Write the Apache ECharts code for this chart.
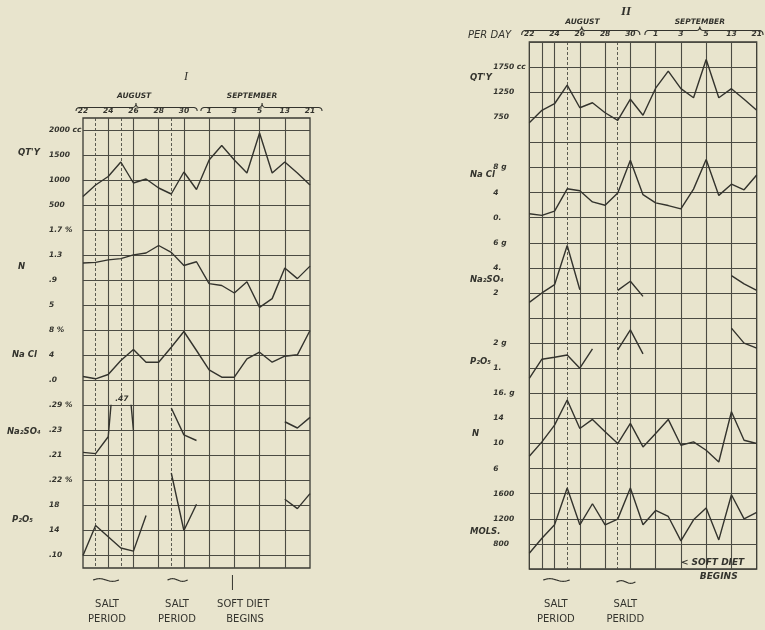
<!DOCTYPE html>
<html><head><meta charset="utf-8">
<script src="https://cdn.jsdelivr.net/npm/echarts@6/dist/echarts.min.js"></script>
<style>html,body{margin:0;padding:0;background:#e8e4cd;}#c{width:765px;height:630px;}</style>
</head><body><div id="c"></div>
<script>
// ---- categories (days) ----
const days = ['22','23','24','25','26','27','28','29','30','31','1','2','3','4','5','9','13','17','21'];
const solidDays1 = [2,4,6,8,10,12,14,16];
const dashedDays1 = [1,3,7];
const solidDays2 = [1,2,4,6,8,10,12,14,16];
const dashedDays2 = [3,7];

// ---- Chart I values ----
const qty1 = [680,910,1080,1370,950,1030,850,730,1170,820,1410,1700,1410,1150,1950,1150,1370,1150,910];
const n1 = [1.18,1.19,1.23,1.25,1.31,1.34,1.46,1.35,1.14,1.20,0.85,0.82,0.70,0.88,0.47,0.61,1.10,0.93,1.13];
const nacl1 = [0.64,0.27,0.96,3.2,4.96,2.93,2.93,5.33,7.84,4.8,1.71,0.53,0.53,3.47,4.53,2.93,3.89,4.11,8.0];
const na2so4_1 = [0.215,0.213,0.240,0.47,0.25,null,null,0.286,0.243,0.234,null,null,null,null,null,null,0.264,0.254,0.271];
const p2o5_1 = [0.10,0.148,0.130,0.112,0.107,0.164,null,0.232,0.14,0.182,null,null,null,null,null,null,0.19,0.175,0.199];

// ---- Chart II values ----
const qty2 = [640,890,1020,1390,940,1040,840,690,1110,790,1330,1670,1320,1140,1900,1140,1320,1110,890];
const nacl2 = [0.63,0.36,1.04,4.6,4.29,2.51,1.98,3.92,9.15,3.66,2.36,1.93,1.41,4.55,9.26,3.55,5.34,4.44,6.8];
const na2so4_2 = [1.25,2.0,2.66,5.78,2.26,null,null,2.21,2.93,1.73,null,null,null,null,null,null,3.38,2.72,2.21];
const p2o5_2 = [0.6,1.36,1.44,1.53,1.0,1.77,null,1.73,2.53,1.57,null,null,null,null,null,null,2.6,2.0,1.8];
const n2 = [7.97,10.26,12.93,16.93,12.4,13.84,11.86,10.0,13.2,9.46,11.6,13.84,9.73,10.26,8.93,7.06,15.06,10.53,10.0];
const mols2 = [651,891,1104,1691,1104,1440,1104,1195,1691,1104,1333,1237,848,1184,1371,864,1584,1200,1301];

// ---- tick values and labels ----
const qty1Ticks = [500,1000,1500,2000], qty1Labels = ['500','1000','1500','2000 cc'];
const n1Ticks = [0.5,0.9,1.3,1.7], n1Labels = ['5','.9','1.3','1.7 %'];
const nacl1Ticks = [0,4,8], nacl1Labels = ['.0','4','8 %'];
const na2so41Ticks = [0.21,0.25,0.29], na2so41Labels = ['.21','.23','.29 %'];
const p2o51Ticks = [0.10,0.14,0.18,0.22], p2o51Labels = ['.10','14','18','.22 %'];

const qty2Ticks = [750,1250,1750], qty2Labels = ['750','1250','1750 cc'];
const nacl2Ticks = [0,4,8], nacl2Labels = ['0.','4','8 g'];
const na2so42Ticks = [2,4,6], na2so42Labels = ['2','4.','6 g'];
const p2o52Ticks = [1,2], p2o52Labels = ['1.','2 g'];
const n2Ticks = [6,10,14,18], n2Labels = ['6','10','14','16. g'];
const mols2Ticks = [800,1200,1600], mols2Labels = ['800','1200','1600'];

const INK = '#33332d', GRIDC = '#4b4b43';
const FONT = 'DejaVu Sans';

const G1 = {left:83, top:118, width:227, height:450, row0:130.5, rowH:25, margin:34};
const G2 = {left:529.3, top:42, width:227.4, height:527, row0:42, rowH:527/21, margin:36};

const panels = [
  {g:G1, r0:0, r1:3, min:500, max:2000, data:qty1, ticks:qty1Ticks, labels:qty1Labels},
  {g:G1, r0:4, r1:7, min:0.5, max:1.7, data:n1, ticks:n1Ticks, labels:n1Labels},
  {g:G1, r0:8, r1:10, min:0, max:8, data:nacl1, ticks:nacl1Ticks, labels:nacl1Labels},
  {g:G1, r0:11, r1:13, min:0.21, max:0.29, data:na2so4_1, ticks:na2so41Ticks, labels:na2so41Labels, clip:true},
  {g:G1, r0:14, r1:17, min:0.10, max:0.22, data:p2o5_1, ticks:p2o51Ticks, labels:p2o51Labels},
  {g:G2, r0:1, r1:3, min:750, max:1750, data:qty2, ticks:qty2Ticks, labels:qty2Labels},
  {g:G2, r0:5, r1:7, min:0, max:8, data:nacl2, ticks:nacl2Ticks, labels:nacl2Labels},
  {g:G2, r0:8, r1:10, min:2, max:6, data:na2so4_2, ticks:na2so42Ticks, labels:na2so42Labels},
  {g:G2, r0:12, r1:13, min:1, max:2, data:p2o5_2, ticks:p2o52Ticks, labels:p2o52Labels},
  {g:G2, r0:14, r1:17, min:6, max:18, data:n2, ticks:n2Ticks, labels:n2Labels},
  {g:G2, r0:18, r1:20, min:800, max:1600, data:mols2, ticks:mols2Ticks, labels:mols2Labels}
];

const labelStyle = {fontFamily:FONT, fontStyle:'italic', fontWeight:'bold', fontSize:7.5, color:INK};

const rowsI = Array.from({length:37}, (_, i) => String(i));

const grids = [
  {left:G1.left, top:G1.top, width:G1.width, height:G1.height, show:true, borderColor:'#3a3a33', borderWidth:1.3, backgroundColor:'transparent'},
  {left:G2.left, top:G2.top, width:G2.width, height:G2.height, show:true, borderColor:'#3a3a33', borderWidth:1.3, backgroundColor:'transparent'}
];
const xAxes = [
  {type:'category', gridIndex:0, data:days, boundaryGap:false, position:'top',
   axisLine:{show:false}, axisTick:{show:false},
   axisLabel:Object.assign({interval:1, margin:3}, labelStyle),
   splitLine:{show:true, interval:(i)=>solidDays1.includes(i), lineStyle:{color:GRIDC, width:1.1}}},
  {type:'category', gridIndex:0, data:days, boundaryGap:false, position:'bottom',
   axisLine:{show:false}, axisTick:{show:false}, axisLabel:{show:false},
   splitLine:{show:true, interval:(i)=>dashedDays1.includes(i), lineStyle:{color:GRIDC, width:0.9, type:[3,2]}}},
  {type:'category', gridIndex:1, data:days, boundaryGap:false, position:'top',
   axisLine:{show:false}, axisTick:{show:false},
   axisLabel:Object.assign({interval:1, margin:4}, labelStyle),
   splitLine:{show:true, interval:(i)=>solidDays2.includes(i), lineStyle:{color:GRIDC, width:1.1}}},
  {type:'category', gridIndex:1, data:days, boundaryGap:false, position:'bottom',
   axisLine:{show:false}, axisTick:{show:false}, axisLabel:{show:false},
   splitLine:{show:true, interval:(i)=>dashedDays2.includes(i), lineStyle:{color:GRIDC, width:0.9, type:[3,2]}}}
];
const yAxes = [
  {type:'category', gridIndex:0, data:rowsI, boundaryGap:false,
   axisLine:{show:false}, axisTick:{show:false}, axisLabel:{show:false},
   splitLine:{show:true, interval:(i)=>i%2===1, lineStyle:{color:GRIDC, width:1.1}}},
  {type:'value', gridIndex:1, min:0, max:21, interval:1,
   axisLine:{show:false}, axisTick:{show:false}, axisLabel:{show:false},
   splitLine:{show:true, lineStyle:{color:GRIDC, width:1.1}}}
];
const series = [];
panels.forEach((p) => {
  const gi = grids.length;
  const g = p.g;
  grids.push({left:g.left, width:g.width, top:g.row0 + g.rowH*p.r0, height:g.rowH*(p.r1-p.r0), show:false});
  p.xi = xAxes.length; p.yi = yAxes.length;
  xAxes.push({type:'category', gridIndex:gi, data:days, boundaryGap:false, show:false});
  yAxes.push({type:'value', gridIndex:gi, min:p.min, max:p.max,
    axisLine:{show:false}, axisTick:{show:false}, splitLine:{show:false},
    axisLabel:Object.assign({customValues:p.ticks, align:'left', margin:g.margin,
      formatter:(v)=>{let b=0,d=1e9;p.ticks.forEach((t,j)=>{const e=Math.abs(t-v);if(e<d){d=e;b=j;}});return p.labels[b];}}, labelStyle)});
  series.push({type:'line', xAxisIndex:p.xi, yAxisIndex:p.yi, data:p.data, symbol:'none',
    connectNulls:false, clip:!!p.clip, silent:true,
    lineStyle:{color:INK, width:1.4}});
});

const chart = echarts.init(document.getElementById('c'));
chart.setOption({animation:false, backgroundColor:'#e8e4cd', grid:grids, xAxis:xAxes, yAxis:yAxes, series:series});

// ---- decorations ----
function xAt(p, i){
  const a = chart.convertToPixel({xAxisIndex:p.xi, yAxisIndex:p.yi}, [0, p.min])[0];
  const b = chart.convertToPixel({xAxisIndex:p.xi, yAxisIndex:p.yi}, [18, p.min])[0];
  return a + (b-a)*i/18;
}
function quad(pts, p0, p1, p2){
  for (let k = 0; k <= 8; k++){
    const t = k/8, u = 1-t;
    pts.push([u*u*p0[0]+2*u*t*p1[0]+t*t*p2[0], u*u*p0[1]+2*u*t*p1[1]+t*t*p2[1]]);
  }
}
function brace(x1, x2, xc, yEnd, yLine, yCusp){
  const pts = [];
  quad(pts, [x1,yEnd], [x1,yLine], [x1+4,yLine]);
  quad(pts, [xc-4,yLine], [xc,yLine], [xc,yCusp]);
  quad(pts, [xc,yCusp], [xc,yLine], [xc+4,yLine]);
  quad(pts, [x2-4,yLine], [x2,yLine], [x2,yEnd]);
  return {type:'polyline', silent:true, shape:{points:pts}, style:{stroke:INK, fill:null, lineWidth:1.1}};
}
function squiggle(a, b, y){
  const pts = [];
  for (let k = 0; k <= 20; k++){
    const t = k/20;
    pts.push([a + (b-a)*t, y - 1.3*Math.sin(t*Math.PI*2)]);
  }
  return {type:'polyline', silent:true, shape:{points:pts}, style:{stroke:INK, fill:null, lineWidth:1.2}};
}
function txt(t, x, y, font, align){
  return {type:'text', x:x, y:y, silent:true, style:{text:t, font:font, fill:INK, textAlign:align||'left', textVerticalAlign:'middle'}};
}
const P1 = panels[0], P2 = panels[5];
const nameFont = `italic bold 8.5px "${FONT}"`;
const monthFont = `italic bold 7.5px "${FONT}"`;
const noteFont = `10px "${FONT}"`;
const noteFont2 = `italic bold 9px "${FONT}"`;
const g = [];
g.push(txt('I', 186, 77, `italic 12px "Liberation Serif"`, 'center'));
g.push(txt('II', 626, 12, `italic bold 13px "Liberation Serif"`, 'center'));
g.push(brace(xAt(P1,-0.55), xAt(P1,9.05), xAt(P1,4.2), 111, 107.5, 103));
g.push(brace(xAt(P1,9.35), xAt(P1,18.95), xAt(P1,14.2), 111, 107.5, 103));
g.push(txt('AUGUST', xAt(P1,4.05), 96, monthFont, 'center'));
g.push(txt('SEPTEMBER', xAt(P1,13.4), 96, monthFont, 'center'));
g.push(brace(xAt(P2,-0.6), xAt(P2,8.75), xAt(P2,4.15), 35, 30.5, 26.5));
g.push(brace(xAt(P2,9.15), xAt(P2,18.5), xAt(P2,13.5), 35, 30.5, 26.5));
g.push(txt('AUGUST', xAt(P2,4.2), 22, monthFont, 'center'));
g.push(txt('SEPTEMBER', xAt(P2,13.5), 22, monthFont, 'center'));
[["QT'Y",18,153],['N',18,267],['Na Cl',12,355],['Na₂SO₄',7,432],['P₂O₅',12,520]].forEach(a=>g.push(txt(a[0],a[1],a[2],nameFont)));
[["QT'Y",470,78],['Na Cl',470,175],['Na₂SO₄',470,280],['P₂O₅',470,362],['N',472,434],['MOLS.',470,532]].forEach(a=>g.push(txt(a[0],a[1],a[2],nameFont)));
g.push(txt('PER DAY', 468, 35, `italic 10px "${FONT}"`));
const pNa = panels[3];
const pk = chart.convertToPixel({xAxisIndex:pNa.xi, yAxisIndex:pNa.yi}, [3, 0.29]);
g.push(txt('.47', pk[0]+1, pk[1]-6, `italic bold 7.5px "${FONT}"`, 'center'));
g.push(squiggle(xAt(P1,0.8), xAt(P1,2.85), 580));
g.push(squiggle(xAt(P1,6.7), xAt(P1,8.3), 580));
g.push({type:'line', silent:true, shape:{x1:xAt(P1,11.85), y1:575, x2:xAt(P1,11.85), y2:590}, style:{stroke:INK, lineWidth:1}});
g.push(txt('SALT', xAt(P1,1.9), 604, noteFont, 'center'));
g.push(txt('PERIOD', xAt(P1,1.9), 619, noteFont, 'center'));
g.push(txt('SALT', xAt(P1,7.45), 604, noteFont, 'center'));
g.push(txt('PERIOD', xAt(P1,7.45), 619, noteFont, 'center'));
g.push(txt('SOFT DIET', xAt(P1,12.7), 604, noteFont, 'center'));
g.push(txt('BEGINS', xAt(P1,12.85), 619, noteFont, 'center'));
g.push(squiggle(xAt(P2,1.1), xAt(P2,3.2), 580));
g.push(squiggle(xAt(P2,6.9), xAt(P2,8.4), 582));
g.push(txt('SALT', xAt(P2,2.1), 604, noteFont, 'center'));
g.push(txt('PERIOD', xAt(P2,2.1), 619, noteFont, 'center'));
g.push(txt('SALT', xAt(P2,7.6), 604, noteFont, 'center'));
g.push(txt('PERIDD', xAt(P2,7.6), 619, noteFont, 'center'));
g.push(txt('< SOFT DIET', xAt(P2,12), 563, noteFont2));
g.push(txt('BEGINS', xAt(P2,13.5), 577, noteFont2));
chart.setOption({graphic:g});
</script></body></html>
